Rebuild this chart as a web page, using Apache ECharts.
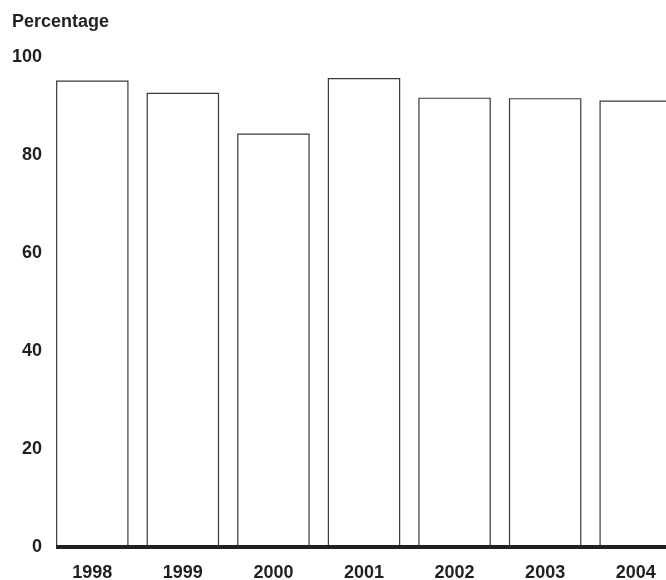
<!DOCTYPE html>
<html>
<head>
<meta charset="utf-8">
<script src="https://cdn.jsdelivr.net/npm/echarts@6/dist/echarts.min.js"></script>
<style>
html,body{margin:0;padding:0;background:#fff;}
#chart{width:666px;height:580px;}
</style>
</head>
<body>
<div id="chart"></div>
<script>
var categories = ['1998', '1999', '2000', '2001', '2002', '2003', '2004'];
var values = [95.2, 92.7, 84.4, 95.7, 91.7, 91.6, 91.1];
var yTicks = [0, 20, 40, 60, 80, 100];
var yTitle = 'Percentage';

var textColor = '#231f20';
var fontFam = 'Liberation Sans, Arial, sans-serif';
var chart = echarts.init(document.getElementById('chart'), null, {renderer: 'canvas'});
var option = {
  animation: false,
  backgroundColor: '#ffffff',
  title: {
    text: yTitle,
    left: 12,
    top: 13,
    padding: 0,
    textStyle: {fontFamily: fontFam, fontSize: 18, fontWeight: 'bold', color: textColor}
  },
  grid: {left: 47, width: 634, top: 57, bottom: 33, containLabel: false, outerBoundsMode: 'none'},
  xAxis: {
    type: 'category',
    data: categories,
    axisLine: {show: false},
    axisTick: {show: false},
    axisLabel: {
      margin: 17,
      fontFamily: fontFam,
      fontSize: 18,
      fontWeight: 'bold',
      color: textColor
    }
  },
  yAxis: {
    type: 'value',
    min: yTicks[0],
    max: yTicks[yTicks.length - 1],
    interval: 20,
    axisLine: {show: false},
    axisTick: {show: false},
    splitLine: {show: false},
    axisLabel: {
      margin: 5,
      fontFamily: fontFam,
      fontSize: 18,
      fontWeight: 'bold',
      color: textColor
    }
  },
  series: [{
    type: 'bar',
    data: values,
    barCategoryGap: '20%',
    itemStyle: {color: '#ffffff', borderColor: '#3a3a3a', borderWidth: 1.2}
  }]
};
chart.setOption(option);

// Baseline: starts at the first bar's left edge, as in the reference
var layout = chart.getModel().getSeriesByIndex(0).getData().getItemLayout(0);
var y0 = chart.convertToPixel({yAxisIndex: 0}, 0);
chart.setOption({
  graphic: [{
    type: 'line',
    z: 100,
    shape: {x1: layout.x, y1: y0, x2: 700, y2: y0},
    style: {stroke: textColor, lineWidth: 4}
  }]
});
</script>
</body>
</html>
